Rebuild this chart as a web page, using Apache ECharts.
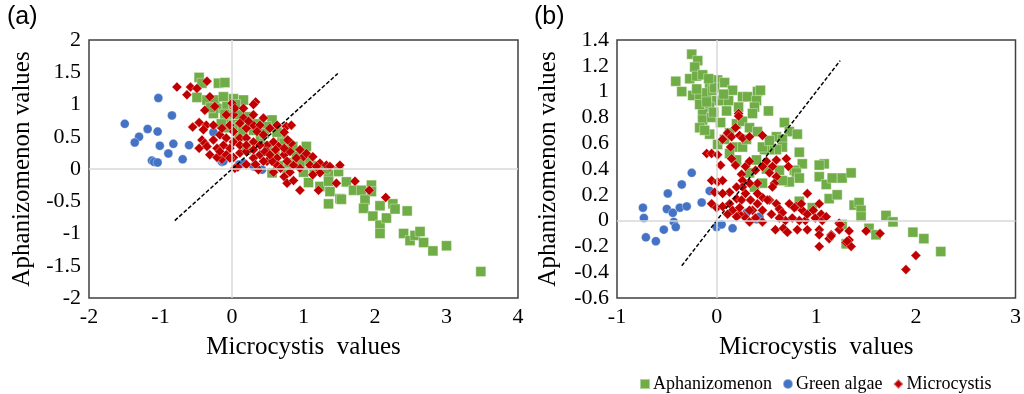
<!DOCTYPE html>
<html>
<head>
<meta charset="utf-8">
<script src="https://cdn.jsdelivr.net/npm/echarts@6/dist/echarts.min.js"></script>
<style>html,body{margin:0;padding:0;background:#fff}#c{width:1024px;height:394px}</style>
</head>
<body>
<div id="c"></div>
<script>
// ---------- Panel (a) data [Microcystis, Aphanizomenon] ----------
const aGreen = [
[-0.46,1.42],[-0.42,1.33],[-0.19,1.33],[-0.10,1.34],[-0.49,1.11],[-0.35,1.07],[-0.24,1.07],[-0.12,1.12],
[0.02,1.09],[0.16,1.07],[-0.21,0.94],[-0.07,0.97],[-0.26,0.86],[0.02,0.94],[0.11,0.84],[0.23,0.81],
[-0.07,0.76],[0.02,0.69],[0.11,0.66],[-0.05,0.64],[0.56,0.76],[0.48,0.66],[0.70,0.50],[0.63,0.57],
[0.73,0.40],[1.04,0.35],[0.97,0.22],[1.08,0.14],[0.56,-0.06],[0.77,0.01],[1.00,-0.05],[1.07,-0.21],
[1.23,-0.27],[1.35,-0.09],[1.35,-0.19],[1.37,-0.35],[1.49,-0.04],[1.51,-0.46],[1.35,-0.54],[1.60,-0.20],
[1.70,-0.33],[1.81,-0.33],[1.95,-0.25],[1.95,-0.35],[1.86,-0.48],[1.84,-0.61],[1.97,-0.73],[2.07,-0.57],
[2.07,-0.87],[2.16,-0.76],[2.07,-1.00],[2.25,-0.54],[2.28,-0.62],[2.45,-0.65],[2.40,-1.00],[2.49,-1.11],
[2.56,-1.03],[2.63,-0.97],[2.68,-1.14],[2.81,-1.27],[3.00,-1.19],[3.48,-1.59],[1.53,-0.47],
[0.30,0.60],[0.40,0.45],[0.50,0.35],[0.20,0.30],[0.60,0.20],[0.80,0.10],[0.90,0.20],[0.65,0.05],
[0.75,0.30],[1.20,0.05],[1.30,0.00],[0.10,0.50],[-0.10,0.85],[0.05,1.00],[-0.30,0.95],[0.35,0.70],
[0.15,0.60],[-0.15,0.70],[0.45,0.55],[0.85,0.35],[1.15,0.00],[0.95,0.10]
];
const aBlue = [
[-1.50,0.70],[-1.03,1.10],[-0.84,0.83],[-1.18,0.62],[-1.30,0.50],[-1.36,0.41],[-1.04,0.58],[-1.01,0.36],
[-0.82,0.39],[-0.60,0.37],[-0.89,0.24],[-0.69,0.15],[-1.12,0.13],[-1.09,0.11],[-1.04,0.10],
[-0.26,0.57],[-0.14,0.11],[0.10,0.07],[0.16,0.09],[0.30,0.04],[0.42,-0.01],[-0.12,0.12]
];
const aRed = [
[-0.77,1.27],[-0.58,1.27],[-0.63,1.15],[-0.49,1.25],[-0.35,1.36],[-0.31,1.12],[-0.24,0.97],[0.00,1.02],
[0.33,1.04],[0.30,1.00],[0.02,0.84],[-0.08,0.84],[0.04,0.94],[-0.38,0.91],[0.16,0.94],[0.30,0.84],
[0.44,0.79],[-0.55,0.65],[-0.46,0.72],[-0.36,0.68],[-0.26,0.68],[-0.40,0.61],[-0.42,0.45],[-0.38,0.40],
[-0.46,0.32],[-0.31,0.22],[-0.14,0.15],[-0.21,0.18],[0.02,0.18],[0.11,0.25],[0.04,0.01],[0.08,0.03],
[-0.17,0.53],[-0.08,0.48],[0.02,0.42],[0.11,0.48],[0.20,0.48],[0.20,0.63],[0.30,0.68],[0.39,0.68],
[0.35,0.58],[0.44,0.53],[0.30,0.42],[0.49,0.37],[0.58,0.42],[0.65,0.35],[0.76,0.66],[0.83,0.68],
[0.49,0.27],[0.39,0.22],[0.30,0.17],[0.20,0.07],[0.37,-0.01],[0.49,0.12],[0.63,0.17],[0.73,0.22],
[0.81,0.27],[0.83,0.40],[0.78,0.45],[0.95,0.30],[1.00,0.19],[1.04,0.24],[1.13,0.19],[1.23,0.09],
[1.23,-0.06],[1.13,-0.09],[1.32,0.06],[1.51,0.06],[0.95,0.01],[0.86,0.06],[0.81,-0.05],[0.73,-0.12],
[0.77,-0.22],[0.86,-0.18],[0.95,-0.33],[1.21,-0.33],[1.46,-0.22],[1.72,-0.19],[1.92,-0.33],[2.15,-0.44],
[0.63,0.06],[0.56,0.12],[0.44,0.12],[0.33,0.07],[0.58,-0.05],[0.68,0.01],[0.20,0.27],[0.11,0.37],
[-0.03,0.32],[-0.12,0.37],[-0.21,0.32],[-0.17,0.27],[-0.08,0.22],[-0.03,0.17],[0.20,0.37],[0.30,0.30],
[0.39,0.37],[0.46,0.27],[0.53,0.22],[0.61,0.30],[0.73,0.32],[0.77,0.12],[0.90,0.17],[1.09,0.06],
[1.18,0.04],[1.37,0.04],[0.73,0.57],[0.63,0.68],[0.53,0.63],[0.16,0.79],[0.23,0.74],[0.11,0.71],
[0.02,0.58],[-0.26,0.45],[-0.35,0.35],[-0.03,0.68],[-0.14,0.63]
];
const aDash = [[-0.8,-0.8],[1.48,1.48]];

// ---------- Panel (b) data ----------
const bGreen = [
[-0.25,1.29],[-0.19,1.24],[-0.22,1.19],[-0.41,1.08],[-0.35,1.00],[-0.27,1.10],[-0.20,1.12],[-0.14,1.13],
[-0.07,1.06],[0.01,1.09],[0.08,1.07],[-0.24,0.97],[-0.17,0.96],[-0.10,0.99],[-0.04,1.01],[0.00,0.93],
[-0.07,0.88],[-0.14,0.83],[-0.17,0.90],[0.05,0.93],[0.16,1.01],[0.26,0.96],[0.31,0.96],[0.41,1.00],
[0.44,1.01],[0.40,0.93],[0.38,0.88],[0.36,0.83],[0.52,0.85],[-0.14,0.78],[-0.17,0.72],[-0.07,0.67],
[0.01,0.59],[0.08,0.63],[0.13,0.68],[0.20,0.75],[0.26,0.77],[0.33,0.72],[0.41,0.69],[0.20,0.57],
[0.26,0.57],[0.68,0.76],[0.73,0.69],[0.81,0.67],[0.60,0.65],[0.66,0.63],[0.66,0.57],[0.83,0.53],
[0.60,0.55],[0.53,0.55],[0.48,0.55],[0.20,0.47],[0.40,0.47],[0.86,0.44],[0.78,0.39],[0.80,0.37],
[0.83,0.33],[0.73,0.30],[0.63,0.39],[0.66,0.31],[0.46,0.29],[1.03,0.34],[1.08,0.44],[1.03,0.43],
[1.10,0.28],[1.16,0.33],[1.26,0.33],[1.35,0.37],[1.13,0.17],[1.21,0.20],[1.38,0.12],[1.43,0.14],
[1.45,0.08],[1.45,0.03],[0.83,0.15],[0.96,0.10],[1.26,-0.03],[1.30,-0.18],[1.53,-0.06],[1.60,-0.11],
[1.70,0.04],[1.77,-0.01],[1.97,-0.09],[2.08,-0.14],[2.25,-0.24],[0.13,0.52],[0.46,0.57],[0.53,0.62],
[0.38,0.26],[0.33,0.37],[-0.05,0.80],[0.10,0.85],[-0.02,1.03],[0.22,0.88],[0.30,0.63],[0.50,0.40],
[-0.10,0.92],[-0.03,0.84],[0.04,0.76],[-0.12,0.70],[0.12,0.93],[-0.20,1.02],[0.07,0.98],[-0.08,1.10]
];
const bBlue = [
[-0.74,0.10],[-0.73,0.02],[-0.71,-0.13],[-0.61,-0.16],[-0.53,-0.07],[-0.49,0.21],[-0.50,0.09],[-0.44,0.06],
[-0.43,-0.01],[-0.41,-0.05],[-0.37,0.10],[-0.30,0.11],[-0.35,0.28],[-0.25,0.37],[-0.15,0.14],[-0.07,0.23],
[0.00,-0.05],[0.05,-0.03],[0.16,-0.06],[0.30,0.06],[0.40,0.01],[0.43,0.03]
];
const bRed = [
[0.22,0.83],[0.22,0.81],[0.19,0.72],[0.06,0.63],[0.11,0.68],[0.15,0.65],[0.23,0.66],[0.26,0.64],
[0.33,0.65],[0.46,0.66],[-0.10,0.52],[-0.05,0.52],[0.01,0.51],[0.04,0.43],[0.14,0.57],[0.15,0.48],
[0.19,0.43],[0.25,0.36],[0.29,0.42],[0.33,0.46],[0.39,0.39],[0.41,0.29],[0.50,0.46],[0.56,0.42],
[0.60,0.47],[0.70,0.48],[0.72,0.42],[0.60,0.34],[0.58,0.29],[0.53,0.37],[0.46,0.42],[-0.05,0.31],
[0.01,0.30],[0.06,0.31],[-0.02,0.22],[-0.05,0.13],[0.00,0.10],[0.06,0.11],[0.13,0.13],[0.20,0.17],
[0.25,0.16],[0.29,0.21],[0.34,0.16],[0.41,0.13],[0.46,0.18],[0.53,0.16],[0.56,0.26],[0.60,0.13],
[0.63,0.09],[0.66,0.06],[0.73,0.13],[0.80,0.11],[0.86,0.08],[0.89,0.00],[0.83,0.00],[0.76,0.02],
[0.69,0.00],[0.63,0.02],[0.55,0.05],[0.46,0.08],[0.39,0.02],[0.33,-0.01],[0.28,0.03],[0.23,0.05],
[0.16,0.08],[0.11,0.05],[0.59,-0.07],[0.67,-0.06],[0.71,-0.09],[0.81,-0.07],[0.91,-0.07],[0.91,0.21],
[0.91,0.05],[0.97,0.08],[1.03,0.13],[1.05,0.05],[1.06,0.00],[1.03,-0.07],[1.03,-0.11],[1.03,-0.20],
[1.15,-0.11],[1.13,-0.14],[1.23,-0.02],[1.23,-0.07],[1.33,-0.08],[1.30,-0.17],[1.33,-0.15],[1.35,-0.20],
[1.50,-0.08],[1.64,-0.10],[1.90,-0.38],[2.00,-0.27],[0.26,0.31],[0.33,0.29],[0.26,0.26],[0.20,0.26],
[0.13,0.22],[0.06,0.21],[0.36,0.08],[0.46,-0.01],[0.51,0.16],[0.41,0.21],[0.23,0.10],[0.20,0.03],
[0.33,0.08],[0.78,0.10],[0.85,0.13],[0.99,0.02],[1.10,0.03],[1.24,-0.03],[1.15,-0.12],[1.31,-0.16]
];
const bDash = [[-0.35,-0.35],[1.24,1.24]];

const xTicksA = {min:-2, max:4, interval:1};
const yTicksA = {min:-2, max:2, interval:0.5};
const xTicksB = {min:-1, max:3, interval:1};
const yTicksB = {min:-0.6, max:1.4, interval:0.2};

const SERIF = '"Liberation Serif","Times New Roman",serif';
const GREEN = '#70AD47', BLUE = '#4472C4', RED = '#C00000';

function xAx(idx, t){
  return {gridIndex:idx, type:'value', min:t.min, max:t.max, interval:t.interval,
    name:'Microcystis  values', nameLocation:'middle', nameGap:37,
    nameTextStyle:{fontFamily:SERIF, fontSize:25, color:'#000'},
    axisLine:{show:false}, axisTick:{show:false}, splitLine:{show:false},
    axisLabel:{fontFamily:SERIF, fontSize:22, color:'#000', margin:8}};
}
function yAx(idx, t, gap){
  return {gridIndex:idx, type:'value', min:t.min, max:t.max, interval:t.interval,
    name:'Aphanizomenon values', nameLocation:'middle', nameGap:gap,
    nameTextStyle:{fontFamily:SERIF, fontSize:25, color:'#000'},
    axisLine:{show:false}, axisTick:{show:false}, splitLine:{show:false},
    axisLabel:{fontFamily:SERIF, fontSize:22, color:'#000', margin:8}};
}
function zeroLines(idx){
  return {type:'line', xAxisIndex:idx, yAxisIndex:idx, data:[], silent:true, z:1,
    markLine:{silent:true, symbol:'none', label:{show:false}, animation:false,
      lineStyle:{color:'#d9d9d9', width:1.5, type:'solid'},
      data:[{xAxis:0},{yAxis:0}]}};
}
function scat(name, idx, data, color, symbol, size){
  return {type:'scatter', name:name, xAxisIndex:idx, yAxisIndex:idx, data:data, z:3,
    symbol:symbol, symbolSize:size,
    itemStyle:{color:color, opacity:1, borderColor:'rgba(255,255,255,0.45)', borderWidth:0.8}};
}
function dash(idx, data){
  return {type:'line', xAxisIndex:idx, yAxisIndex:idx, data:data, z:4, symbol:'none', silent:true,
    lineStyle:{color:'#000', width:1.5, type:[4,2]}};
}

const chart = echarts.init(document.getElementById('c'), null, {renderer:'canvas'});
chart.setOption({
  animation:false,
  backgroundColor:'#fff',
  grid:[
    {left:89, top:40, width:429, height:258, show:true, borderColor:'#404040', borderWidth:1.5, backgroundColor:'transparent'},
    {left:617, top:40, width:400, height:258, show:true, borderColor:'#404040', borderWidth:1.5, backgroundColor:'transparent'}
  ],
  xAxis:[xAx(0, xTicksA), xAx(1, xTicksB)],
  yAxis:[yAx(0, yTicksA, 54), yAx(1, yTicksB, 56)],
  legend:{
    data:['Aphanizomenon','Green algae','Microcystis'],
    left:634, top:370, itemWidth:10, itemHeight:10, itemGap:10,
    textStyle:{fontFamily:SERIF, fontSize:18, color:'#000', padding:[0,0,0,-2]}
  },
  graphic:[
    {type:'text', left:7, top:5, style:{text:'(a)', font:'25px "Liberation Sans", Arial, sans-serif', fill:'#000'}},
    {type:'text', left:534, top:5, style:{text:'(b)', font:'25px "Liberation Sans", Arial, sans-serif', fill:'#000'}}
  ],
  series:[
    zeroLines(0), zeroLines(1),
    scat('Aphanizomenon', 0, aGreen, GREEN, 'rect', 10),
    scat('Green algae', 0, aBlue, BLUE, 'circle', 9),
    scat('Microcystis', 0, aRed, RED, 'diamond', 10),
    scat('Aphanizomenon', 1, bGreen, GREEN, 'rect', 10),
    scat('Green algae', 1, bBlue, BLUE, 'circle', 9),
    scat('Microcystis', 1, bRed, RED, 'diamond', 10),
    dash(0, aDash), dash(1, bDash)
  ]
});
</script>
</body>
</html>
